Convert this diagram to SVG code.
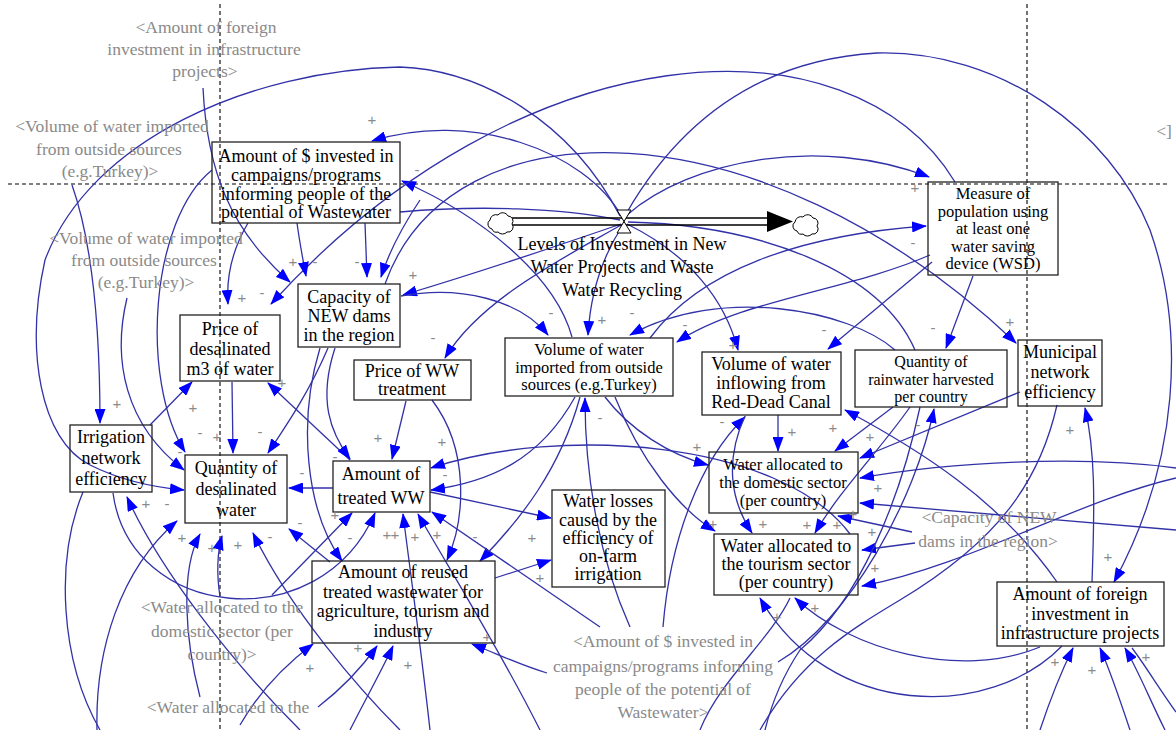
<svg xmlns="http://www.w3.org/2000/svg" width="1176" height="730" viewBox="0 0 1176 730">
<defs>
<marker id="a" viewBox="0 0 15 11" refX="14" refY="5.5" markerWidth="15" markerHeight="11" markerUnits="userSpaceOnUse" orient="auto"><path d="M0,0 L15,5.5 L0,11 z" fill="#0000ff"/></marker>
<style>
.g{stroke:#000;stroke-width:1.1;stroke-dasharray:4,3;fill:none}
.c path{fill:none;stroke:#3232a8;stroke-width:1.3}
.c .ar{marker-end:url(#a)}
.n rect{fill:none;stroke:#222;stroke-width:1.3}
.t{font-family:"Liberation Serif","Times New Roman",serif;font-size:18px;fill:#000;text-anchor:middle}
.tm{font-size:16.5px}
.tr{font-size:16px}
.s{font-family:"Liberation Serif","Times New Roman",serif;font-size:17.5px;fill:#8a8a8a;text-anchor:middle}
.p{font-family:"Liberation Sans",Arial,sans-serif;font-size:15px;fill:#8a8a8a;text-anchor:middle}
</style>
</defs>
<rect width="1176" height="730" fill="#fff"/>
<g id="guides">
<line class="g" x1="220" y1="4" x2="220" y2="730"/>
<line class="g" x1="1027" y1="4" x2="1027" y2="730"/>
<line class="g" x1="8" y1="184" x2="1170" y2="184"/>
</g>
<g id="connectors" class="c">
<path class="ar" d="M622,217 C585,150 470,110 372,141"/>
<path class="ar" d="M620,216 C570,120 480,70 400,67 C250,70 90,140 45,260 C25,350 40,440 90,465 C120,480 150,487 184,490"/>
<path class="ar" d="M572,337 C555,275 480,215 402,181"/>
<path class="ar" d="M627,215 C690,160 820,135 929,177"/>
<path class="ar" d="M626,214 C680,120 760,60 877,53 C1000,50 1110,130 1150,230 C1185,330 1180,460 1114,582"/>
<path class="ar" d="M955,182 C850,10 520,30 271,304"/>
<path class="ar" d="M650,338 C700,270 800,235 926,226"/>
<path class="ar" d="M385,284 C450,100 760,100 1016,343"/>
<path d="M915,350 C880,270 760,225 628,222"/>
<path class="ar" d="M621,224 C560,245 470,275 403,295"/>
<path class="ar" d="M621,225 C560,260 480,300 445,358"/>
<path class="ar" d="M401,296 C460,285 520,300 548,335"/>
<path class="ar" d="M623,225 C600,260 590,300 588,335"/>
<path class="ar" d="M895,350 C850,310 720,285 630,335"/>
<path class="ar" d="M930,255 C850,290 740,300 677,342"/>
<path class="ar" d="M627,224 C690,255 725,300 738,350"/>
<path class="ar" d="M932,262 L828,349"/>
<path class="ar" d="M973,276 L946,348"/>
<path d="M400,212 C480,205 560,208 620,220"/>
<path class="ar" d="M203,88 C207,170 230,230 290,282"/>
<path class="ar" d="M248,223 C232,250 226,275 228,304"/>
<path class="ar" d="M297,223 C300,245 303,260 306,276"/>
<path class="ar" d="M365,223 L367,277"/>
<path class="ar" d="M420,200 C400,230 388,255 381,277"/>
<path class="ar" d="M72,185 C95,250 100,340 100,423"/>
<path class="ar" d="M127,298 C112,360 125,425 184,470"/>
<path class="ar" d="M212,170 C150,220 140,380 185,452"/>
<path class="ar" d="M150,425 L192,382"/>
<path class="ar" d="M113,493 C130,620 320,640 375,513"/>
<path class="ar" d="M300,730 C230,660 160,570 127,497"/>
<path d="M83,492 C55,560 60,660 100,730"/>
<path class="ar" d="M97,730 C95,650 120,570 177,521"/>
<path class="ar" d="M200,697 C185,640 180,570 200,534"/>
<path class="ar" d="M220,597 C216,570 218,550 222,536"/>
<path class="ar" d="M400,730 C360,690 290,610 253,533"/>
<path class="ar" d="M330,562 L289,529"/>
<path class="ar" d="M232,382 L233,453"/>
<path class="ar" d="M328,348 C310,390 290,420 268,453"/>
<path class="ar" d="M333,488 L289,488"/>
<path class="ar" d="M350,460 L268,383"/>
<path class="ar" d="M335,348 C318,400 330,432 350,459"/>
<path class="ar" d="M406,401 L392,459"/>
<path class="ar" d="M320,348 C298,420 305,510 342,561"/>
<path class="ar" d="M432,400 C470,450 465,520 447,560"/>
<path class="ar" d="M580,397 C560,470 520,520 480,561"/>
<path class="ar" d="M575,397 C540,460 490,482 431,490"/>
<path class="ar" d="M850,534 C780,440 560,425 431,468"/>
<path class="ar" d="M430,492 L551,518"/>
<path class="ar" d="M495,578 L551,560"/>
<path class="ar" d="M547,673 C520,665 500,655 472,644"/>
<path class="ar" d="M600,627 L432,512"/>
<path class="ar" d="M630,627 C600,560 585,480 585,398"/>
<path class="ar" d="M663,627 C670,540 700,460 745,417"/>
<path class="ar" d="M778,662 C850,620 915,500 934,409"/>
<path class="ar" d="M272,595 L352,513"/>
<path class="ar" d="M430,730 C420,640 410,570 403,514"/>
<path class="ar" d="M540,730 C500,650 450,570 418,514"/>
<path class="ar" d="M240,725 C260,690 285,665 313,644"/>
<path class="ar" d="M318,707 C340,690 360,670 377,646"/>
<path class="ar" d="M350,730 C365,700 382,670 393,646"/>
<path class="ar" d="M605,397 C630,430 670,455 708,465"/>
<path class="ar" d="M615,397 C640,460 680,510 715,531"/>
<path class="ar" d="M778,415 L778,451"/>
<path class="ar" d="M745,416 C725,460 730,500 752,533"/>
<path class="ar" d="M893,407 L835,451"/>
<path class="ar" d="M1020,392 L860,458"/>
<path class="ar" d="M910,407 C880,450 840,490 815,533"/>
<path class="ar" d="M1176,530 L860,503"/>
<path class="ar" d="M912,532 L838,516"/>
<path class="ar" d="M915,543 L862,550"/>
<path class="ar" d="M1176,478 C1080,500 970,565 862,586"/>
<path class="ar" d="M1176,468 C1080,455 950,462 860,478"/>
<path d="M1057,405 C1040,480 1000,540 900,600 C850,630 800,660 760,730"/>
<path class="ar" d="M1057,582 C1000,500 920,450 845,410"/>
<path class="ar" d="M1092,582 C1095,500 1095,450 1085,408"/>
<path class="ar" d="M1040,647 C960,680 850,650 795,598"/>
<path class="ar" d="M1062,646 C990,720 830,720 760,598"/>
<path class="ar" d="M1040,730 C1050,700 1062,670 1073,648"/>
<path class="ar" d="M1130,730 C1120,700 1110,670 1100,648"/>
<path class="ar" d="M1165,730 C1150,700 1138,670 1125,648"/>
<path d="M1176,712 C1160,690 1145,665 1132,648"/>
<path d="M920,407 C900,500 860,600 800,650 C780,680 770,710 765,730"/>
<path d="M700,730 C720,680 770,640 790,598"/>
</g>
<g id="flow">
<path d="M512,218 H770 M512,225 H770" stroke="#000" stroke-width="1.3" fill="none"/>
<path d="M767,211 L793,221.5 L767,232 z" fill="#000"/>
<path d="M617,210 L631,210 L617,233 L631,233 z" fill="#fff" stroke="#000" stroke-width="1"/>
<path d="M492,229 a5,5 0 0 1 -2,-9 a6,6 0 0 1 8,-5 a6,6 0 0 1 10,1 a5,5 0 0 1 4,8 a5,5 0 0 1 -5,8 a6,6 0 0 1 -9,0 a5,5 0 0 1 -6,-3 z" fill="#fff" stroke="#000" stroke-width="1"/>
<path d="M797,231 a5,5 0 0 1 -2,-9 a6,6 0 0 1 8,-5 a6,6 0 0 1 10,1 a5,5 0 0 1 4,8 a5,5 0 0 1 -5,8 a6,6 0 0 1 -9,0 a5,5 0 0 1 -6,-3 z" fill="#fff" stroke="#000" stroke-width="1"/>
<text class="t"><tspan x="622" y="250">Levels of Investment in New</tspan><tspan x="622" y="273">Water Projects and Waste</tspan><tspan x="622" y="296">Water Recycling</tspan></text>
</g>
<g id="n1" class="n"><rect x="212" y="142" width="188" height="81"/><text class="t"><tspan x="306" y="162">Amount of $ invested in</tspan><tspan x="306" y="181">campaigns/programs</tspan><tspan x="306" y="200">informing people of the</tspan><tspan x="306" y="218">potential of Wastewater</tspan></text></g>
<g id="n2" class="n"><rect x="928" y="182" width="130" height="93"/><text class="t tm"><tspan x="993" y="199">Measure of</tspan><tspan x="993" y="216.5">population using</tspan><tspan x="993" y="234">at least one</tspan><tspan x="993" y="251.5">water saving</tspan><tspan x="993" y="269">device (WSD)</tspan></text></g>
<g id="n3" class="n"><rect x="298" y="284" width="102" height="63"/><text class="t"><tspan x="349" y="303">Capacity of</tspan><tspan x="349" y="322">NEW dams</tspan><tspan x="349" y="341">in the region</tspan></text></g>
<g id="n4" class="n"><rect x="180" y="315" width="100" height="66"/><text class="t"><tspan x="230" y="335">Price of</tspan><tspan x="230" y="355">desalinated</tspan><tspan x="230" y="375">m3 of water</tspan></text></g>
<g id="n5" class="n"><rect x="354" y="360" width="117" height="40"/><text class="t"><tspan x="412" y="377">Price of WW</tspan><tspan x="412" y="395">treatment</tspan></text></g>
<g id="n6" class="n"><rect x="505" y="338" width="168" height="58"/><text class="t tm"><tspan x="589" y="355">Volume of water</tspan><tspan x="589" y="372.5">imported from outside</tspan><tspan x="589" y="390">sources (e.g.Turkey)</tspan></text></g>
<g id="n7" class="n"><rect x="702" y="352" width="139" height="63"/><text class="t"><tspan x="771" y="370">Volume of water</tspan><tspan x="771" y="389">inflowing from</tspan><tspan x="771" y="408">Red-Dead Canal</tspan></text></g>
<g id="n8" class="n"><rect x="855" y="350" width="152" height="57"/><text class="t tr"><tspan x="931" y="367">Quantity of</tspan><tspan x="931" y="384.5">rainwater harvested</tspan><tspan x="931" y="402">per country</tspan></text></g>
<g id="n9" class="n"><rect x="1018" y="340" width="84" height="66"/><text class="t"><tspan x="1060" y="358">Municipal</tspan><tspan x="1060" y="378">network</tspan><tspan x="1060" y="398">efficiency</tspan></text></g>
<g id="n10" class="n"><rect x="70" y="425" width="82" height="67"/><text class="t"><tspan x="111" y="443">Irrigation</tspan><tspan x="111" y="464">network</tspan><tspan x="111" y="485">efficiency</tspan></text></g>
<g id="n11" class="n"><rect x="185" y="455" width="102" height="68"/><text class="t"><tspan x="236" y="474">Quantity of</tspan><tspan x="236" y="495">desalinated</tspan><tspan x="236" y="516">water</tspan></text></g>
<g id="n12" class="n"><rect x="333" y="461" width="97" height="51"/><text class="t"><tspan x="381" y="480">Amount of</tspan><tspan x="381" y="504">treated WW</tspan></text></g>
<g id="n13" class="n"><rect x="552" y="490" width="113" height="97"/><text class="t"><tspan x="608" y="507">Water losses</tspan><tspan x="608" y="526">caused by the</tspan><tspan x="608" y="544">efficiency of</tspan><tspan x="608" y="562">on-farm</tspan><tspan x="608" y="580">irrigation</tspan></text></g>
<g id="n14" class="n"><rect x="312" y="561" width="183" height="82"/><text class="t"><tspan x="403" y="578">Amount of reused</tspan><tspan x="403" y="598">treated wastewater for</tspan><tspan x="403" y="617">agriculture, tourism and</tspan><tspan x="403" y="637">industry</tspan></text></g>
<g id="n15" class="n"><rect x="709" y="452" width="149" height="61"/><text class="t tm"><tspan x="783" y="470">Water allocated to</tspan><tspan x="783" y="488">the domestic sector</tspan><tspan x="783" y="506">(per country)</tspan></text></g>
<g id="n16" class="n"><rect x="714" y="534" width="144" height="61"/><text class="t"><tspan x="786" y="552">Water allocated to</tspan><tspan x="786" y="570">the tourism sector</tspan><tspan x="786" y="588">(per country)</tspan></text></g>
<g id="n17" class="n"><rect x="997" y="582" width="167" height="64"/><text class="t"><tspan x="1080" y="600">Amount of foreign</tspan><tspan x="1080" y="620">investment in</tspan><tspan x="1080" y="639">infrastructure projects</tspan></text></g>
<g id="shadows">
<text class="s"><tspan x="206" y="33">&lt;Amount of foreign</tspan><tspan x="204" y="55">investment in infrastructure</tspan><tspan x="205" y="77">projects&gt;</tspan></text>
<text class="s"><tspan x="112" y="132">&lt;Volume of water imported</tspan><tspan x="109" y="155">from outside sources</tspan><tspan x="110" y="177">(e.g.Turkey)&gt;</tspan></text>
<text class="s"><tspan x="146" y="244">&lt;Volume of water imported</tspan><tspan x="144" y="266">from outside sources</tspan><tspan x="146" y="288">(e.g.Turkey)&gt;</tspan></text>
<text class="s"><tspan x="222" y="613">&lt;Water allocated to the</tspan><tspan x="222" y="637">domestic sector (per</tspan><tspan x="222" y="660">country)&gt;</tspan></text>
<text class="s"><tspan x="228" y="713">&lt;Water allocated to the</tspan></text>
<text class="s"><tspan x="663" y="647">&lt;Amount of $ invested in</tspan><tspan x="663" y="672">campaigns/programs informing</tspan><tspan x="663" y="695">people of the potential of</tspan><tspan x="663" y="718">Wastewater&gt;</tspan></text>
<text class="s"><tspan x="989" y="523">&lt;Capacity of NEW</tspan><tspan x="988" y="547">dams in the region&gt;</tspan></text>
<text class="s" x="1164" y="137">&lt;]</text>
</g>
<g id="signs" class="p">
<text x="372" y="125">+</text><text x="417" y="175">-</text><text x="915" y="193">+</text><text x="913" y="248">-</text>
<text x="293" y="267">+</text><text x="315" y="267">-</text><text x="357" y="267">-</text>
<text x="242" y="303">+</text><text x="262" y="298">-</text>
<text x="117" y="409">+</text><text x="193" y="413">+</text><text x="282" y="388">+</text>
<text x="200" y="438">-</text><text x="217" y="442">+</text><text x="260" y="437">-</text><text x="180" y="457">-</text>
<text x="378" y="443">+</text><text x="442" y="447">+</text><text x="302" y="478">-</text><text x="335" y="462">-</text>
<text x="445" y="480">-</text><text x="335" y="520">+</text><text x="300" y="528">-</text><text x="270" y="542">-</text>
<text x="146" y="509">+</text><text x="167" y="509">-</text><text x="182" y="543">+</text><text x="212" y="553">+</text><text x="238" y="550">+</text>
<text x="350" y="543">-</text><text x="387" y="540">+</text><text x="395" y="540">+</text><text x="415" y="542">+</text><text x="437" y="540">+</text><text x="475" y="542">-</text>
<text x="532" y="543">+</text><text x="540" y="583">+</text><text x="487" y="642">+</text><text x="408" y="670">+</text>
<text x="358" y="653">+</text><text x="310" y="673">+</text>
<text x="413" y="280">+</text><text x="433" y="343">-</text><text x="551" y="318">-</text><text x="602" y="325">+</text><text x="632" y="318">-</text><text x="685" y="330">-</text>
<text x="733" y="350">+</text><text x="600" y="423">-</text><text x="697" y="452">+</text><text x="722" y="427">-</text><text x="792" y="437">+</text>
<text x="1010" y="327">+</text><text x="824" y="335">-</text><text x="933" y="333">-</text>
<text x="833" y="433">+</text><text x="870" y="442">+</text><text x="918" y="430">-</text><text x="1070" y="435">+</text><text x="878" y="493">+</text>
<text x="853" y="519">+</text><text x="807" y="530">+</text><text x="837" y="530">+</text><text x="872" y="537">+</text><text x="875" y="573">+</text>
<text x="713" y="529">+</text><text x="763" y="529">+</text><text x="777" y="622">+</text><text x="815" y="613">+</text>
<text x="1108" y="562">+</text><text x="1055" y="667">+</text><text x="1092" y="675">+</text><text x="1146" y="662">+</text>
</g>
</svg>
